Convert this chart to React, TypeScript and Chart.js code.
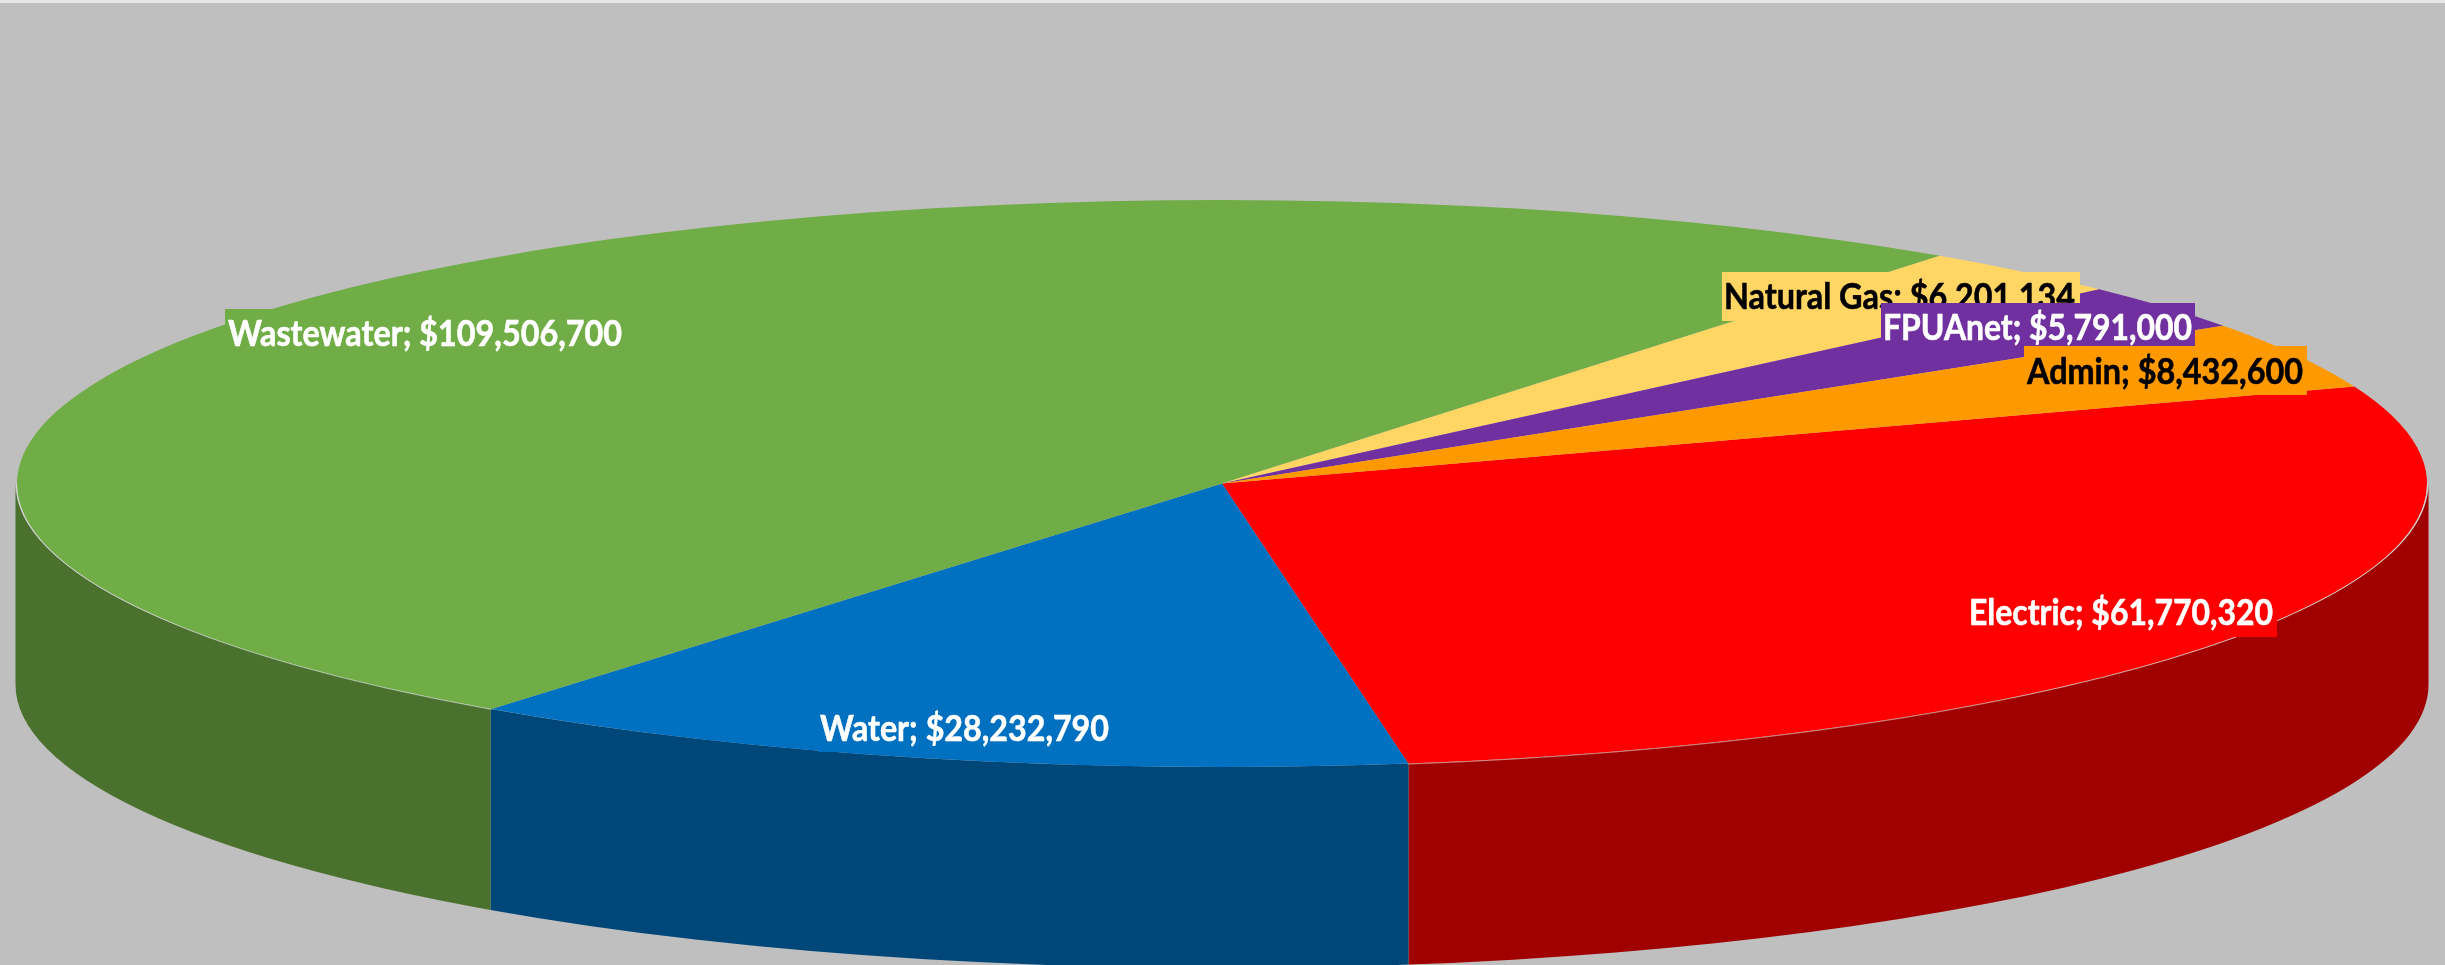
import React, { useEffect, useRef } from "react";
import { Chart, registerables } from "chart.js";

Chart.register(...registerables);

const categories = ["Electric", "Water", "Wastewater", "Natural Gas", "FPUAnet", "Admin"];
const budget = [61770320, 28232790, 109506700, 6201134, 5791000, 8432600];
const topColors = ["#FF0000", "#0070C0", "#70AD47", "#FFD563", "#7030A0", "#FF9900"];
const wallColors = ["#A00000", "#004779", "#4A712E", "#A88A3F", "#4A1F6A", "#A86500"];
const labelInks = ["#FFFFFF", "#FFFFFF", "#FFFFFF", "#000000", "#FFFFFF", "#000000"];
const rimSlices = [0, 2];
const labelBoxes = [
  { x: 1966, y: 588, w: 311, h: 49, tx: 1969, ty: 625, tw: 304 },
  { x: 818, y: 703, w: 294, h: 49, tx: 820, ty: 741, tw: 289 },
  { x: 225, y: 309, w: 400, h: 49, tx: 228, ty: 346, tw: 394 },
  { x: 1722, y: 272, w: 358, h: 49, tx: 1724, ty: 309, tw: 351 },
  { x: 1881, y: 303, w: 314, h: 43, tx: 1883, ty: 340, tw: 309 },
  { x: 2024, y: 346, w: 283, h: 49, tx: 2027, ty: 384, tw: 276 },
];

const RADIUS = 1205;
const SQUASH = 283.5 / RADIUS;
const DEPTH = 201;
const FONT = 'bold 36px Lato, "Open Sans", sans-serif';

const money = (v: number) => "$" + v.toLocaleString("en-US");

const pie3d = {
  id: "pie3d",
  beforeDraw(chart: any) {
    const { ctx, width, height } = chart;
    ctx.save();
    ctx.fillStyle = "#BFBFBF";
    ctx.fillRect(0, 0, width, height);
    ctx.fillStyle = "#E6E6E6";
    ctx.fillRect(0, 0, width, 3);
    ctx.restore();
  },
  beforeDatasetsDraw(chart: any) {
    const { ctx } = chart;
    const arcs = chart.getDatasetMeta(0).data;
    const { x: cx, y: cy, outerRadius: r } = arcs[0];
    ctx.save();
    arcs.forEach((arc: any, i: number) => {
      const a = Math.max(arc.startAngle, 0);
      const b = Math.min(arc.endAngle, Math.PI);
      if (b <= a) return;
      ctx.beginPath();
      ctx.ellipse(cx, cy, r + 1.5, r * SQUASH, 0, a, b);
      ctx.ellipse(cx, cy + DEPTH, r + 1.5, r * SQUASH, 0, b, a, true);
      ctx.closePath();
      ctx.fillStyle = wallColors[i];
      ctx.fill();
    });
    ctx.restore();
    ctx.save();
    ctx.translate(cx, cy);
    ctx.scale(1, SQUASH);
    ctx.translate(-cx, -cy);
  },
  afterDatasetsDraw(chart: any) {
    const { ctx } = chart;
    ctx.restore();
    const arcs = chart.getDatasetMeta(0).data;
    ctx.save();
    ctx.strokeStyle = "rgba(235,235,235,0.55)";
    ctx.lineWidth = 1;
    rimSlices.forEach((i) => {
      const arc = arcs[i];
      const a = Math.max(arc.startAngle, 0);
      const b = Math.min(arc.endAngle, Math.PI);
      ctx.beginPath();
      ctx.ellipse(arc.x, arc.y, arc.outerRadius + 0.5, arc.outerRadius * SQUASH + 0.5, 0, a, b);
      ctx.stroke();
    });
    ctx.restore();
    ctx.save();
    ctx.font = FONT;
    ctx.textAlign = "left";
    ctx.textBaseline = "alphabetic";
    ctx.lineJoin = "round";
    categories.forEach((name, i) => {
      const box = labelBoxes[i];
      ctx.fillStyle = topColors[i];
      ctx.fillRect(box.x, box.y, box.w, box.h);
      const text = `${name}; ${money(budget[i])}`;
      const k = box.tw / ctx.measureText(text).width;
      ctx.save();
      ctx.translate(box.tx, box.ty);
      ctx.scale(k, 1);
      ctx.fillStyle = labelInks[i];
      ctx.strokeStyle = labelInks[i];
      ctx.lineWidth = 0.6;
      ctx.strokeText(text, 0, 0);
      ctx.fillText(text, 0, 0);
      ctx.restore();
    });
    ctx.restore();
  },
};

export default function App() {
  const ref = useRef<HTMLCanvasElement>(null);
  useEffect(() => {
    document.body.style.margin = "0";
    const chart = new Chart(ref.current!, {
      type: "pie",
      data: {
        labels: categories,
        datasets: [
          {
            data: budget,
            backgroundColor: topColors,
            borderWidth: 0,
            clip: false,
          } as any,
        ],
      },
      options: {
        responsive: false,
        animation: false,
        rotation: 70,
        radius: RADIUS,
        layout: { padding: { right: 1, top: 2 } },
        plugins: { legend: { display: false }, tooltip: { enabled: false } },
      } as any,
      plugins: [pie3d],
    });
    return () => chart.destroy();
  }, []);
  return (
    <div style={{ position: "absolute", left: 0, top: 0, width: 2445, height: 965, overflow: "hidden" }}>
      <canvas ref={ref} width={2445} height={965} style={{ display: "block" }} />
    </div>
  );
}
